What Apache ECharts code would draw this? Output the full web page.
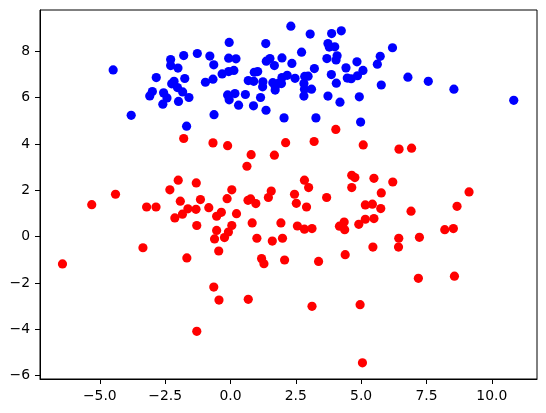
<!DOCTYPE html>
<html>
<head>
<meta charset="utf-8">
<script src="https://cdn.jsdelivr.net/npm/echarts@6/dist/echarts.min.js"></script>
<style>
  html, body { margin: 0; padding: 0; background: #fff; }
  #main { width: 546px; height: 413px; }
</style>
</head>
<body>
<div id="main"></div>
<script>
// blue cluster, [x, y]
var bluePoints = [
    [-4.49, 7.20], [-3.80, 5.24], [-3.09, 6.08], [-2.99, 6.27], [-2.84, 6.87],
    [-2.56, 6.21], [-2.59, 5.72], [-2.43, 5.99], [-2.29, 7.65], [-2.29, 7.39],
    [-2.01, 7.28], [-2.25, 6.60], [-2.16, 6.71], [-2.03, 6.44], [-1.99, 5.84],
    [-1.79, 7.82], [-1.75, 6.83], [-1.83, 6.25], [-1.59, 6.01], [-1.68, 4.77],
    [-1.27, 7.91], [-0.96, 6.67], [-0.79, 7.80], [-0.64, 7.42], [-0.67, 6.80],
    [-0.63, 5.27], [-0.32, 7.03], [-0.05, 8.39], [-0.07, 7.71], [0.21, 7.68],
    [-0.07, 7.13], [0.13, 7.18], [-0.11, 6.12], [-0.05, 5.91], [0.17, 6.18],
    [0.31, 5.68], [0.57, 6.14], [0.68, 6.74], [0.89, 6.71], [0.91, 7.10],
    [1.04, 7.13], [0.88, 5.65], [1.15, 6.01], [1.24, 6.69], [1.23, 6.47],
    [1.35, 8.34], [1.37, 7.58], [1.51, 7.69], [1.36, 5.46], [1.68, 7.39],
    [1.62, 6.65], [1.71, 6.33], [1.84, 6.63], [1.97, 7.72], [1.97, 6.87],
    [1.95, 6.61], [2.05, 5.13], [2.17, 6.97], [2.31, 9.09], [2.35, 7.48],
    [2.47, 6.84], [2.72, 7.97], [2.84, 6.92], [2.97, 6.93], [2.81, 6.61],
    [2.83, 6.37], [2.81, 6.07], [3.10, 6.37], [3.05, 8.75], [3.21, 7.26],
    [3.27, 5.13], [3.73, 8.34], [3.78, 8.19], [3.69, 7.69], [3.87, 8.77],
    [3.99, 8.20], [4.08, 7.81], [4.04, 7.63], [3.86, 7.00], [4.05, 6.63],
    [3.73, 6.07], [4.19, 5.81], [4.24, 8.89], [4.42, 7.29], [4.47, 6.85],
    [4.62, 6.82], [4.84, 7.55], [4.86, 6.95], [5.07, 7.18], [4.93, 6.04],
    [4.98, 4.95], [5.62, 7.45], [5.73, 7.79], [5.77, 6.55], [6.20, 8.16],
    [6.79, 6.89], [7.57, 6.71], [8.55, 6.37], [10.84, 5.89], [1.71, 6.49]
];

// red cluster, [x, y]
var redPoints = [
    [-6.43, -1.18], [-5.31, 1.38], [-4.40, 1.83], [-3.35, -0.48], [-3.21, 1.28],
    [-2.85, 1.28], [-2.32, 2.02], [-2.13, 0.81], [-2.00, 2.44], [-1.92, 1.53],
    [-1.84, 0.97], [-1.63, 1.20], [-1.79, 4.24], [-1.67, -0.92], [-1.31, 2.32],
    [-1.32, 1.18], [-1.29, 0.48], [-1.15, 1.60], [-1.29, -4.09], [-0.83, 1.25],
    [-0.67, 4.05], [-0.64, -2.18], [-0.61, -0.10], [-0.53, 0.27], [-0.53, 0.88],
    [-0.35, 1.05], [-0.45, -0.62], [-0.44, -2.74], [-0.23, -0.04], [-0.13, 1.64],
    [-0.11, 3.93], [-0.08, 0.20], [0.05, 0.48], [0.05, 2.02], [0.23, 0.99],
    [0.63, 3.04], [0.67, 1.57], [0.77, 1.63], [0.79, 3.54], [0.83, 0.59],
    [0.97, 1.43], [1.01, -0.07], [0.68, -2.71], [1.19, -0.95], [1.28, -1.17],
    [1.45, 1.69], [1.56, 1.97], [1.60, -0.19], [1.68, 3.52], [1.93, 0.59],
    [1.99, -0.07], [2.07, -1.01], [2.11, 4.06], [2.45, 1.83], [2.52, 1.44],
    [2.56, 0.46], [2.83, 2.44], [2.99, 2.12], [2.91, 1.28], [2.83, 0.32],
    [3.12, 0.35], [3.12, -3.01], [3.20, 4.11], [3.37, -1.07], [3.68, 1.69],
    [4.03, 4.63], [4.17, 0.45], [4.35, 0.63], [4.37, 0.30], [4.39, -0.78],
    [4.64, 2.65], [4.76, 2.55], [4.64, 2.12], [4.91, 0.53], [4.96, -2.94],
    [5.08, 3.96], [5.05, -5.45], [5.16, 0.75], [5.16, 1.37], [5.43, 1.40],
    [5.49, 2.52], [5.49, 0.78], [5.45, -0.45], [5.75, 1.21], [5.77, 1.89],
    [6.21, 2.36], [6.45, 3.78], [6.44, -0.07], [6.43, -0.45], [6.91, 1.10],
    [6.93, 3.82], [7.23, -0.03], [7.19, -1.80], [8.20, 0.30], [8.53, 0.35],
    [8.57, -1.71], [8.67, 1.31], [9.13, 1.93]
];

var xTicks = [-5, -2.5, 0, 2.5, 5, 7.5, 10];
var yTicks = [-6, -4, -2, 0, 2, 4, 6, 8];

function minus(s) {
    return s.replace('-', '\u2212');
}

var myChart = echarts.init(document.getElementById('main'));
myChart.setOption({
    animation: false,
    textStyle: { fontFamily: 'DejaVu Sans' },
    grid: {
        left: 40,
        right: 9,
        top: 10,
        bottom: 34,
        show: true,
        borderColor: '#000',
        borderWidth: 1,
        outerBoundsMode: 'none'
    },
    xAxis: {
        type: 'value',
        min: -7.29,
        max: 11.73,
        splitLine: { show: false },
        axisLine: { show: true, onZero: false, lineStyle: { color: '#000', width: 1 } },
        axisTick: { show: true, length: 5, lineStyle: { color: '#000', width: 1 }, customValues: xTicks },
        axisLabel: {
            color: '#000',
            fontSize: 13.9,
            margin: 10,
            customValues: xTicks,
            formatter: function (v) { return minus(v.toFixed(1)); }
        }
    },
    yAxis: {
        type: 'value',
        min: -6.15,
        max: 9.79,
        splitLine: { show: false },
        axisLine: { show: true, onZero: false, lineStyle: { color: '#000', width: 1 } },
        axisTick: { show: true, length: 5, lineStyle: { color: '#000', width: 1 }, customValues: yTicks },
        axisLabel: {
            color: '#000',
            fontSize: 13.9,
            margin: 10,
            customValues: yTicks,
            formatter: function (v) { return minus(String(v)); }
        }
    },
    series: [
        {
            name: 'blue',
            type: 'scatter',
            symbolSize: 9.2,
            itemStyle: { color: '#0000ff', opacity: 1 },
            data: bluePoints
        },
        {
            name: 'red',
            type: 'scatter',
            symbolSize: 9.2,
            itemStyle: { color: '#ff0000', opacity: 1 },
            data: redPoints
        }
    ]
});
</script>
</body>
</html>
